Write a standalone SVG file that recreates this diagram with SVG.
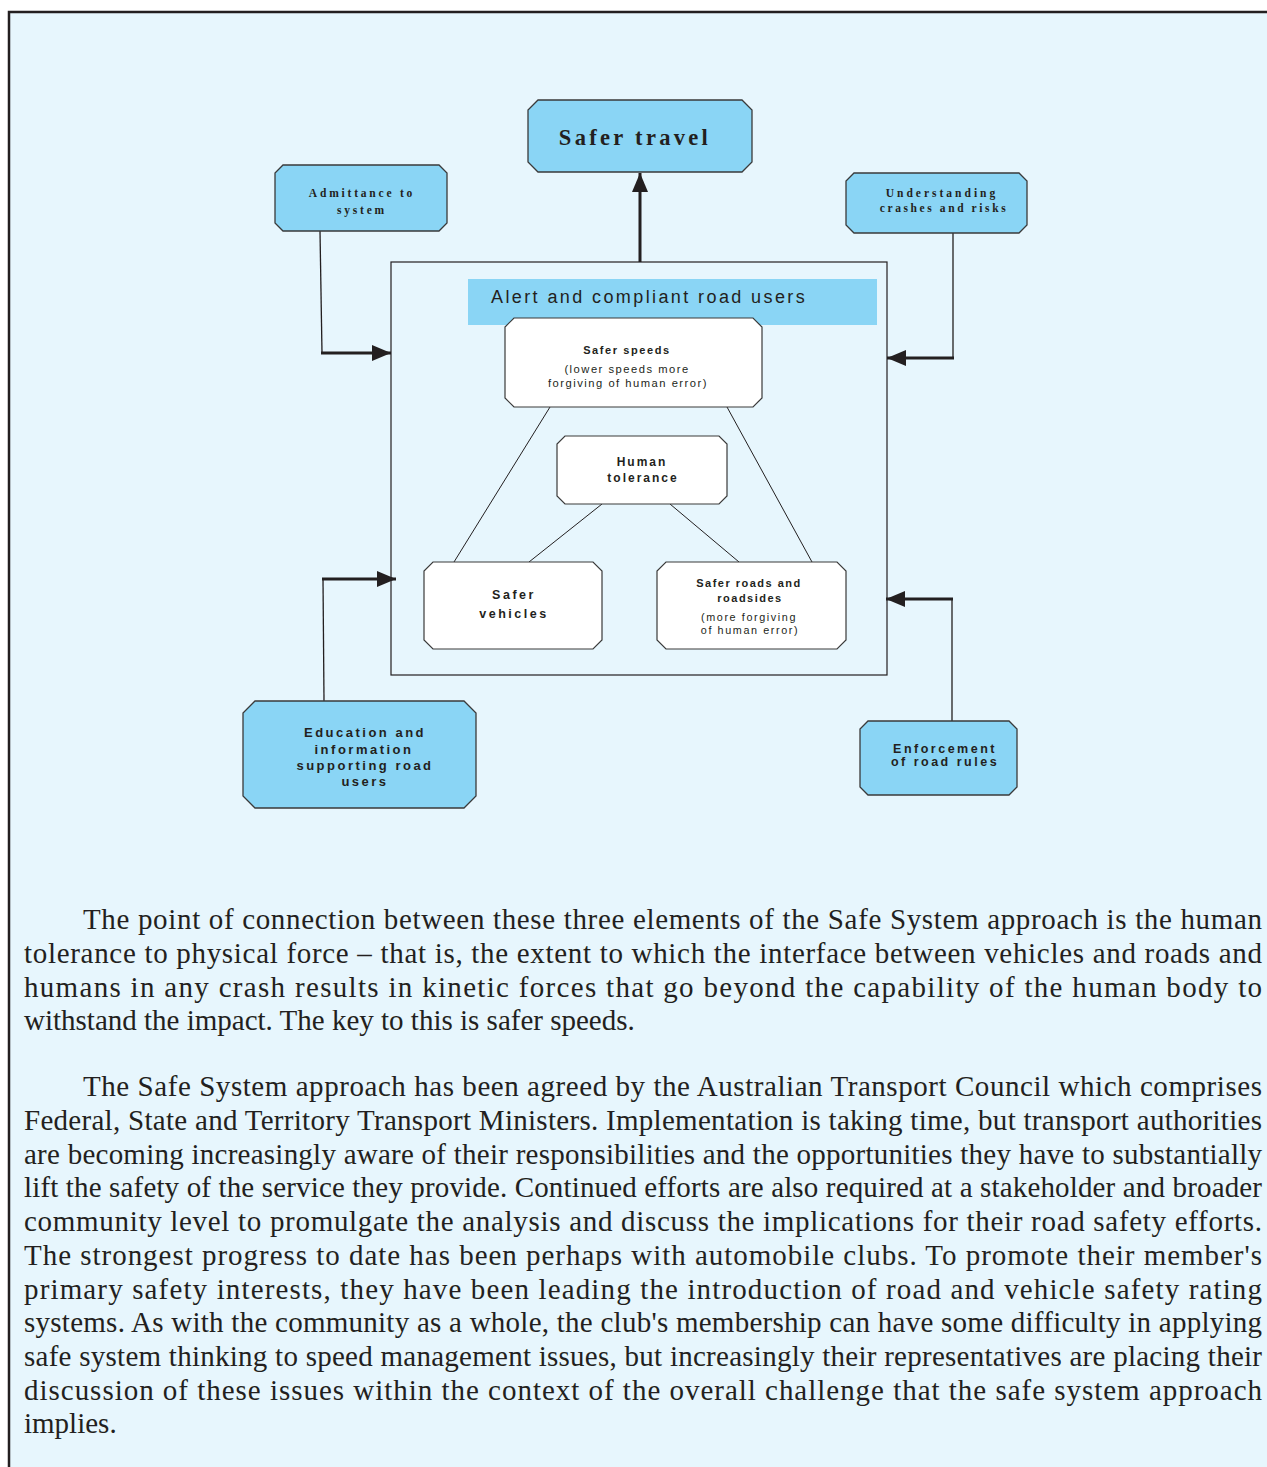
<svg xmlns="http://www.w3.org/2000/svg" width="1267" height="1467" viewBox="0 0 1267 1467">
<defs>
<style>
.frame{fill:#E7F6FD}
.blue{fill:#8AD5F5;stroke:#3a3a3a;stroke-width:1.3}
.white{fill:#FFFFFF;stroke:#3a3a3a;stroke-width:1.2}
.serifb{font-family:"Liberation Serif","Times New Roman",serif;font-weight:bold;fill:#231F20;text-anchor:middle}
.sansb{font-family:"Liberation Sans",Arial,sans-serif;font-weight:bold;fill:#231F20;text-anchor:middle}
.sans{font-family:"Liberation Sans",Arial,sans-serif;fill:#231F20;text-anchor:middle}
.body{font-family:"Liberation Serif","Times New Roman",serif;font-size:29px;fill:#231F20;white-space:pre}
.thin{fill:none;stroke:#231F20;stroke-width:1.3}
.thick{fill:none;stroke:#231F20;stroke-width:3}
.link{fill:none;stroke:#231F20;stroke-width:1}
</style>
<marker id="ah" markerUnits="userSpaceOnUse" markerWidth="20" markerHeight="18" refX="19" refY="8" orient="auto">
<path d="M0,0 L19,8 L0,16 Z" fill="#231F20"/>
</marker>
</defs>
<rect class="frame" x="9" y="12" width="1258" height="1455"/>
<path d="M9,1467 V12 H1267" fill="none" stroke="#231F20" stroke-width="2.5"/>

<g id="connectors">
<rect x="391" y="262" width="496" height="413" fill="none" stroke="#231F20" stroke-width="1.2"/>
<line class="thick" x1="640" y1="262" x2="640" y2="173" marker-end="url(#ah)"/>
<polyline class="thin" points="320,231 322,353"/>
<line class="thick" x1="321" y1="353" x2="391" y2="353" marker-end="url(#ah)"/>
<polyline class="thin" points="953,233 953,358"/>
<line class="thick" x1="954" y1="358" x2="887" y2="358" marker-end="url(#ah)"/>
<polyline class="thin" points="324,701 323,579"/>
<line class="thick" x1="322" y1="579" x2="396" y2="579" marker-end="url(#ah)"/>
<polyline class="thin" points="952,721 952,599"/>
<line class="thick" x1="953" y1="599" x2="886" y2="599" marker-end="url(#ah)"/>
<line class="link" x1="550" y1="407" x2="454" y2="562"/>
<line class="link" x1="727" y1="407" x2="812" y2="562"/>
<line class="link" x1="602" y1="504" x2="529" y2="562"/>
<line class="link" x1="670" y1="504" x2="739" y2="562"/>
</g>

<g id="safer-travel">
<path class="blue" d="M538,100 H742 L752,110 V162 L742,172 H538 L528,162 V110 Z"/>
<text class="serifb" x="635" y="145" font-size="22.5" letter-spacing="3.3">Safer travel</text>
</g>

<g id="admittance">
<path class="blue" d="M283,165 H439 L447,173 V223 L439,231 H283 L275,223 V173 Z"/>
<text class="serifb" font-size="11.5" letter-spacing="2.8"><tspan x="362" y="197">Admittance to</tspan><tspan x="362" y="214">system</tspan></text>
</g>

<g id="understanding">
<path class="blue" d="M854,173 H1019 L1027,181 V225 L1019,233 H854 L846,225 V181 Z"/>
<text class="serifb" font-size="11.5"><tspan x="942" y="197" letter-spacing="3">Understanding</tspan><tspan x="944" y="212" letter-spacing="2.6">crashes and risks</tspan></text>
</g>

<g id="alert-banner">
<rect x="468" y="279" width="409" height="46" fill="#8AD5F5"/>
<text x="491" y="303" font-family="'Liberation Sans',Arial,sans-serif" font-size="18" letter-spacing="2.4" fill="#231F20">Alert and compliant road users</text>
</g>

<g id="safer-speeds">
<path class="white" d="M514,318 H753 L762,327 V398 L753,407 H514 L505,398 V327 Z"/>
<text class="sansb" x="627" y="354" font-size="11" letter-spacing="1.6">Safer speeds</text>
<text class="sans" font-size="11.2" letter-spacing="1.5"><tspan x="627" y="373">(lower speeds more</tspan><tspan x="628" y="387">forgiving of human error)</tspan></text>
</g>

<g id="human-tolerance">
<path class="white" d="M565,436 H719 L727,444 V496 L719,504 H565 L557,496 V444 Z"/>
<text class="sansb" font-size="12" letter-spacing="2"><tspan x="642" y="466">Human</tspan><tspan x="643" y="482">tolerance</tspan></text>
</g>

<g id="safer-vehicles">
<path class="white" d="M433,562 H593 L602,571 V640 L593,649 H433 L424,640 V571 Z"/>
<text class="sansb" font-size="12.5" letter-spacing="2.5"><tspan x="514" y="599">Safer</tspan><tspan x="514" y="618">vehicles</tspan></text>
</g>

<g id="safer-roads">
<path class="white" d="M666,562 H837 L846,571 V640 L837,649 H666 L657,640 V571 Z"/>
<text class="sansb" font-size="11" letter-spacing="1.5"><tspan x="749" y="587">Safer roads and</tspan><tspan x="750" y="602">roadsides</tspan></text>
<text class="sans" font-size="10.8" letter-spacing="1.6"><tspan x="749" y="621">(more forgiving</tspan><tspan x="750" y="634">of human error)</tspan></text>
</g>

<g id="education">
<path class="blue" d="M255,701 H464 L476,713 V796 L464,808 H255 L243,796 V713 Z"/>
<text class="sansb" font-size="13" letter-spacing="2.5"><tspan x="365" y="737">Education and</tspan><tspan x="364" y="754">information</tspan><tspan x="365" y="770">supporting road</tspan><tspan x="365" y="786">users</tspan></text>
</g>

<g id="enforcement">
<path class="blue" d="M868,721 H1009 L1017,729 V787 L1009,795 H868 L860,787 V729 Z"/>
<text class="sansb" font-size="12.5" letter-spacing="2.5"><tspan x="945" y="753">Enforcement</tspan><tspan x="945" y="766">of road rules</tspan></text>
</g>

<g id="paragraph-1" class="body">
<text x="83" y="929" textLength="1179" lengthAdjust="spacing">The point of connection between these three elements of the Safe System approach is the human</text>
<text x="24" y="963" textLength="1238" lengthAdjust="spacing">tolerance to physical force – that is, the extent to which the interface between vehicles and roads and</text>
<text x="24" y="997" textLength="1238" lengthAdjust="spacing">humans in any crash results in kinetic forces that go beyond the capability of the human body to</text>
<text x="24" y="1030">withstand the impact. The key to this is safer speeds.</text>
</g>

<g id="paragraph-2" class="body">
<text x="83" y="1096" textLength="1179" lengthAdjust="spacing">The Safe System approach has been agreed by the Australian Transport Council which comprises</text>
<text x="24" y="1130" textLength="1238" lengthAdjust="spacing">Federal, State and Territory Transport Ministers.  Implementation is taking time, but transport authorities</text>
<text x="24" y="1164" textLength="1238" lengthAdjust="spacing">are becoming increasingly aware of their responsibilities and the opportunities they have to substantially</text>
<text x="24" y="1197" textLength="1238" lengthAdjust="spacing">lift the safety of the service they provide. Continued efforts are also required at a stakeholder and broader</text>
<text x="24" y="1231" textLength="1238" lengthAdjust="spacing">community level to promulgate the analysis and discuss the implications for their road safety efforts.</text>
<text x="24" y="1265" textLength="1238" lengthAdjust="spacing">The strongest progress to date has been perhaps with automobile clubs.  To promote their member's</text>
<text x="24" y="1299" textLength="1238" lengthAdjust="spacing">primary safety interests, they have been leading the introduction of road and vehicle safety rating</text>
<text x="24" y="1332" textLength="1238" lengthAdjust="spacing">systems.  As with the community as a whole, the club's membership can have some difficulty in applying</text>
<text x="24" y="1366" textLength="1238" lengthAdjust="spacing">safe system thinking to speed management issues, but increasingly their representatives are placing their</text>
<text x="24" y="1400" textLength="1238" lengthAdjust="spacing">discussion of these issues within the context of the overall challenge that the safe system approach</text>
<text x="24" y="1433">implies.</text>
</g>
</svg>
